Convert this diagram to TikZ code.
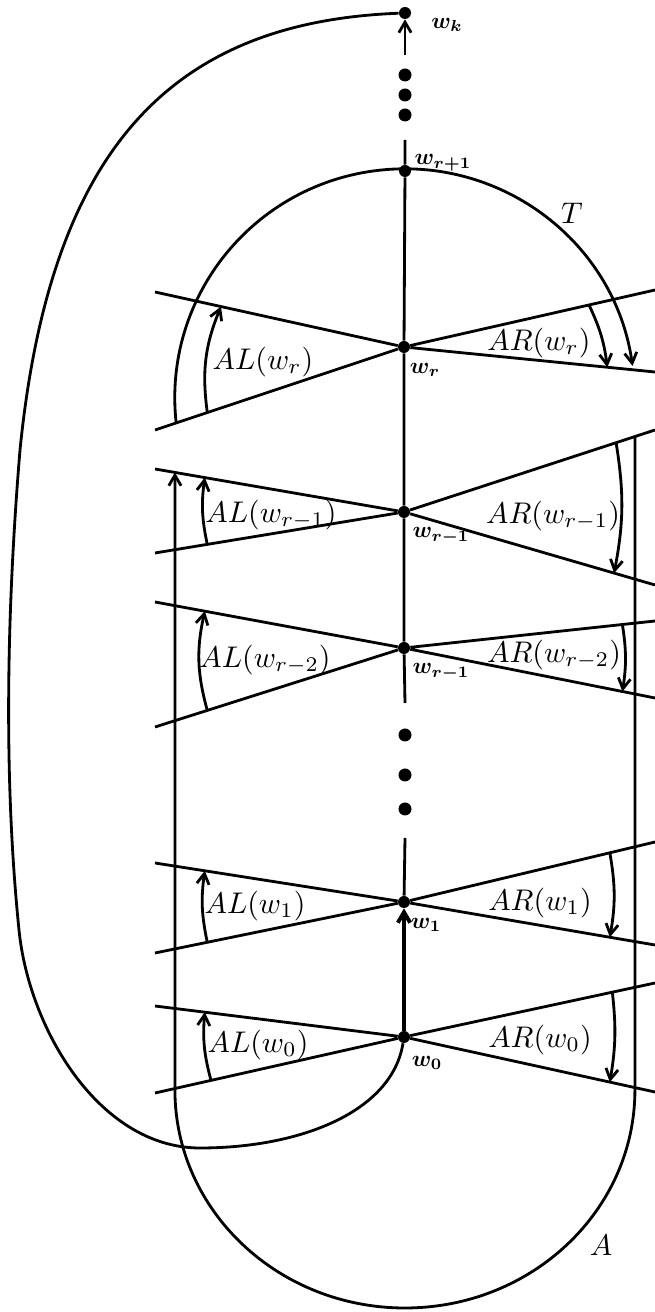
\documentclass[tikz,border=0pt]{standalone}
\usepackage{amsmath}
\usepackage{bm}
\usetikzlibrary{arrows.meta, calc}

\begin{document}
\begin{tikzpicture}[
            x=0.02cm, y=0.02cm,
            vertex/.style={circle, fill=black, inner sep=0pt, minimum size=0.24cm},
            gap/.style={circle, fill=black, inner sep=0pt, minimum size=0.26cm},
            wire/.style={line width=1.6pt},
            arrow/.style={wire, -{Straight Barb[length=6pt,width=7pt]}},
            sweep/.style={arrow, bend left=#1},
            vlabel/.style={scale=1.3, inner sep=0pt},
            alabel/.style={scale=1.7, inner sep=0pt}
        ]
            \useasboundingbox (0,0) rectangle (655,1312);

            % Vertices on the spine
            \node[vertex] (wk) at (405,1299) {};
            \node[vertex] (wr1) at (405,1141) {};
            \node[vertex] (wr) at (404,965) {};
            \node[vertex] (wrm1) at (404,800) {};
            \node[vertex] (wrm2) at (404,664) {};
            \node[vertex] (w1) at (404,410) {};
            \node[vertex] (w0) at (404,275) {};

            \node[gap] (g1) at (405,1237) {};
            \node[gap] (g2) at (405,1217) {};
            \node[gap] (g3) at (405,1197) {};
            \node[gap] (g4) at (405,577) {};
            \node[gap] (g5) at (405,537) {};
            \node[gap] (g6) at (405,503) {};

            \coordinate (kfoot) at (405,1257);
            \coordinate (r1top) at (405,1172);
            \coordinate (mbot) at (405,609);
            \coordinate (mtop) at (405,474);

            % Ray ends
            \coordinate (wrUL) at (155,1020);
            \coordinate (wrLL) at (155,882);
            \coordinate (wrUR) at (655,1022);
            \coordinate (wrLR) at (655,940);
            \coordinate (wrm1UL) at (155,843);
            \coordinate (wrm1LL) at (155,759);
            \coordinate (wrm1UR) at (655,882);
            \coordinate (wrm1LR) at (655,727);
            \coordinate (wrm2UL) at (155,710);
            \coordinate (wrm2LL) at (155,585);
            \coordinate (wrm2UR) at (655,691);
            \coordinate (wrm2LR) at (655,614);
            \coordinate (w1UL) at (155,449);
            \coordinate (w1LL) at (155,359);
            \coordinate (w1UR) at (655,470);
            \coordinate (w1LR) at (655,367);
            \coordinate (w0UL) at (155,306);
            \coordinate (w0LL) at (155,219);
            \coordinate (w0UR) at (655,329);
            \coordinate (w0LR) at (655,220);

            % Spine
            \draw[arrow] (kfoot) -- (wk);
            \draw[wire] (r1top) -- (wr1) -- (wr) -- (wrm1) -- (wrm2) -- (mbot);
            \draw[wire] (mtop) -- (w1);
            \draw[arrow, line width=2.2pt] (w0) -- (w1);

            % Crossing rays
            \draw[wire] (wrUL) -- (wr) -- (wrLR) (wrLL) -- (wr) -- (wrUR);
            \draw[wire] (wrm1UL) -- (wrm1) -- (wrm1LR) (wrm1LL) -- (wrm1) -- (wrm1UR);
            \draw[wire] (wrm2UL) -- (wrm2) -- (wrm2LR) (wrm2LL) -- (wrm2) -- (wrm2UR);
            \draw[wire] (w1UL) -- (w1) -- (w1LR) (w1LL) -- (w1) -- (w1UR);
            \draw[wire] (w0UL) -- (w0) -- (w0LR) (w0LL) -- (w0) -- (w0UR);

            % Angle sweeps
            \draw[sweep=15] ($(wr)!0.79!(wrLL)$) to ($(wr)!0.735!(wrUL)$);
            \draw[sweep=9] ($(wr)!0.737!(wrUR)$) to ($(wr)!0.81!(wrLR)$);
            \draw[sweep=10] ($(wrm1)!0.79!(wrm1LL)$) to ($(wrm1)!0.8!(wrm1UL)$);
            \draw[sweep=10] ($(wrm1)!0.845!(wrm1UR)$) to ($(wrm1)!0.837!(wrm1LR)$);
            \draw[sweep=14] ($(wrm2)!0.79!(wrm2LL)$) to ($(wrm2)!0.8!(wrm2UL)$);
            \draw[sweep=9] ($(wrm2)!0.87!(wrm2UR)$) to ($(wrm2)!0.87!(wrm2LR)$);
            \draw[sweep=10] ($(w1)!0.79!(w1LL)$) to ($(w1)!0.8!(w1UL)$);
            \draw[sweep=10] ($(w1)!0.82!(w1UR)$) to ($(w1)!0.82!(w1LR)$);
            \draw[sweep=10] ($(w0)!0.775!(w0LL)$) to ($(w0)!0.8!(w0UL)$);
            \draw[sweep=8] ($(w0)!0.83!(w0UR)$) to ($(w0)!0.82!(w0LR)$);

            % T and A
            \coordinate (tL) at ($(wr)!0.915!(wrLL)$);
            \draw[arrow] (tL) arc[start angle=186.3, end angle=8, x radius=230, y radius=229];
            \coordinate (aL) at ($(wrm1)!0.92!(wrm1UL)$);
            \coordinate (aR) at ($(wrm1)!0.92!(wrm1UR)$);
            \coordinate (abase) at (0,222);
            \draw[arrow] (aR) -- (aR |- abase) arc[start angle=0, end angle=-180, x radius=230, y radius=218] -- (aL);

            % Outer loop
            \draw[wire] (wk) .. controls (170,1290) and (50,1162) .. (20,862)
                .. controls (5,680) and (5,520) .. (19,382)
                .. controls (29,282) and (100,164) .. (200,164)
                .. controls (300,164) and (392,200) .. (w0);

            % Labels
            \node[vlabel] (lk) at (447,1287) {$\bm{w_k}$};
            \node[vlabel] (lr1) at (443,1149) {$\bm{w_{r+1}}$};
            \node[vlabel] (lr) at (425,942) {$\bm{w_r}$};
            \node[vlabel] (lrm1) at (441,776) {$\bm{w_{r-1}}$};
            \node[vlabel] (lrm2) at (441,640) {$\bm{w_{r-1}}$};
            \node[vlabel] (l1) at (426,387) {$\bm{w_1}$};
            \node[vlabel] (l0) at (427,249) {$\bm{w_0}$};

            \node[alabel] (alr) at (263,950) {$AL(w_r)$};
            \node[alabel] (arr) at (539,969) {$AR(w_r)$};
            \node[alabel] (alrm1) at (271,797) {$AL(w_{r-1})$};
            \node[alabel] (arrm1) at (553,796) {$AR(w_{r-1})$};
            \node[alabel] (alrm2) at (265,652) {$AL(w_{r-2})$};
            \node[alabel] (arrm2) at (554,657) {$AR(w_{r-2})$};
            \node[alabel] (al1) at (255,406) {$AL(w_1)$};
            \node[alabel] (ar1) at (540,409) {$AR(w_1)$};
            \node[alabel] (al0) at (258,267) {$AL(w_0)$};
            \node[alabel] (ar0) at (540,272) {$AR(w_0)$};
            \node[alabel] (lT) at (572,1099) {$T$};
            \node[alabel] (lA) at (601,67) {$A$};
        \end{tikzpicture}
\end{document}
